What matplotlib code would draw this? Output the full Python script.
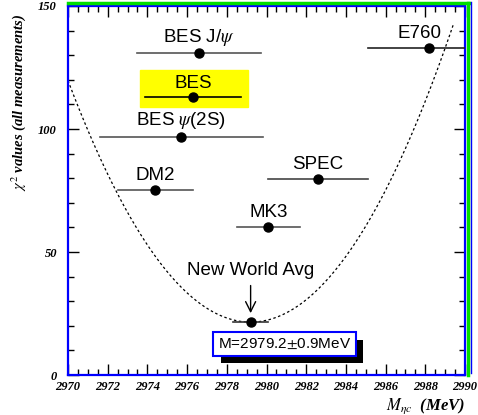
import matplotlib.pyplot as plt
import matplotlib.patheffects as pe
import numpy as np
from matplotlib.lines import Line2D
from matplotlib.patches import Rectangle
from matplotlib.ticker import MultipleLocator

plt.rcParams["mathtext.fontset"] = "stix"

# measurements: name, mass (MeV), half-width of bar, chi2 value
names = ["BES J/$\\psi$", "BES", "BES $\\psi$(2S)", "DM2", "MK3", "SPEC", "E760"]
masses = [2976.6, 2976.3, 2975.7, 2974.4, 2980.1, 2982.6, 2988.2]
errors = [3.1, 2.4, 4.1, 1.9, 1.6, 2.5, 3.1]
chi2 = [130.7, 112.9, 96.9, 75.2, 60.2, 79.7, 132.9]
bar_colors = ["#555555", "black", "#555555", "#555555", "#555555", "#444444", "#222222"]

avg_mass = 2979.2
avg_err = 0.9
avg_chi2 = 21.5
curvature = 1.16  # chi2 per MeV^2 of the dashed parabola
curve_range = (2970.0, 2989.4)

serif = "Liberation Serif"
sans = "Liberation Sans"

fig = plt.figure(figsize=(4.78, 4.15), dpi=100)
ax = fig.add_axes([68 / 478, 1 - 375 / 415, (465 - 68) / 478, (375 - 6) / 415])

# dashed chi2 parabola
m = np.linspace(curve_range[0], curve_range[1], 300)
ax.plot(m, avg_chi2 + curvature * (m - avg_mass) ** 2, ls=(0, (2, 2)),
        color="black", lw=0.9, zorder=2)

# highlight box around the BES result
i_bes = names.index("BES")
ax.add_patch(Rectangle((masses[i_bes] - 2.67, chi2[i_bes] - 4.0), 5.44, 15.1,
                       color="#ffff00", zorder=1, clip_on=False))

for name, x, e, y, c in zip(names, masses, errors, chi2, bar_colors):
    ax.plot([x - e, x + e], [y, y], color=c, lw=1.2, zorder=3)
    ax.plot(x, y, "o", color="black", ms=6.5, zorder=4)
    dx = -0.5 if name == "E760" else 0.0
    ax.text(x + dx, y + 2.3, name, ha="center", va="bottom", fontsize=13.5,
            family=sans, zorder=5)

# new world average
ax.plot([avg_mass - avg_err, avg_mass + avg_err], [avg_chi2, avg_chi2],
        color="#333333", lw=1.2, zorder=3)
ax.plot(avg_mass, avg_chi2, "o", color="black", ms=6.5, zorder=4)
ax.text(avg_mass, 39, "New World Avg", ha="center", va="bottom",
        fontsize=13.5, family=sans)
ax.annotate("", xy=(avg_mass, avg_chi2 + 2.5), xytext=(avg_mass, avg_chi2 + 16),
            arrowprops=dict(arrowstyle="->", color="black", lw=1,
                            mutation_scale=18))

result = f"M={avg_mass}$\\pm${avg_err}MeV"
res = ax.text(2980.9, 12.6, result, ha="center", va="center", fontsize=11,
              family=sans, zorder=6,
              bbox=dict(boxstyle="square,pad=0.3", fc="white", ec="blue", lw=1.5))
res.get_bbox_patch().set_path_effects([
    pe.SimplePatchShadow(offset=(5.5, -5.5), shadow_rgbFace="black", alpha=1),
    pe.Normal(),
])

ax.set_xlim(2970, 2990)
ax.set_ylim(0, 150)
ax.xaxis.set_major_locator(MultipleLocator(2))
ax.xaxis.set_minor_locator(MultipleLocator(0.5))
ax.yaxis.set_major_locator(MultipleLocator(50))
ax.yaxis.set_minor_locator(MultipleLocator(10))
ax.tick_params(which="both", direction="in", top=True, right=True,
               labeltop=False, labelright=False)
ax.tick_params(which="major", length=8, width=1)
ax.tick_params(which="minor", length=4, width=1)
ax.tick_params(axis="x", pad=4)
ax.tick_params(axis="y", pad=8)
for lab in ax.get_xticklabels() + ax.get_yticklabels():
    lab.set_family(serif)
    lab.set_weight("bold")
    lab.set_style("italic")
    lab.set_fontsize(9)

for s in ax.spines.values():
    s.set_color("blue")
    s.set_linewidth(1.6)

ax.set_ylabel("$\\chi^2$ values (all measurements)", family=serif,
              weight="bold", style="italic", fontsize=10.5)
ax.yaxis.set_label_coords(-0.1, 0.74)
ax.text(1.0, -0.085, "$M_{\\eta c}$  (MeV)", transform=ax.transAxes,
        ha="right", va="center", family=serif, weight="bold", style="italic",
        fontsize=12)

# double frame on top and right
fig.add_artist(Line2D([68 / 478, 469 / 478], [1 - 3.5 / 415] * 2,
                      color="#00dd00", lw=2.5))
fig.add_artist(Line2D([468 / 478] * 2, [1 - 3.5 / 415, 1 - 375 / 415],
                      color="#00dd00", lw=2.5))
fig.add_artist(Line2D([470.5 / 478] * 2, [1 - 2 / 415, 1 - 373 / 415],
                      color="blue", lw=1))

fig.savefig("out.png", dpi=100)
